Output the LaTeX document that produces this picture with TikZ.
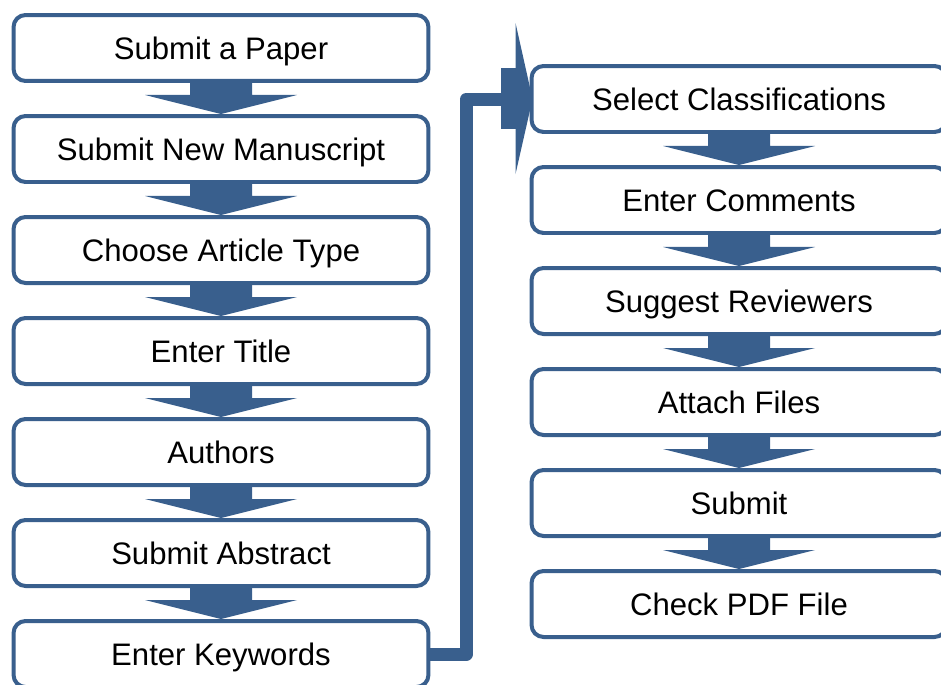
\documentclass[tikz,border=0pt]{standalone}
\usepackage{fontspec}
\setmainfont{Liberation Sans}
\usetikzlibrary{calc}
\definecolor{flowblue}{RGB}{57,95,141}
\tikzset{
  stepbox/.style={draw=flowblue,line width=0.08cm,rounded corners=0.24cm,fill=white,
    minimum width=8.3cm,minimum height=1.32cm,inner sep=0pt,
    text height=12.7pt,text depth=0pt,
    font=\fontsize{17.7}{21}\selectfont},
}

\begin{document}
\begin{tikzpicture}[x=0.02cm,y=-0.02cm]
        % Frame of the picture
        \useasboundingbox (0,0) rectangle (941,684);
        \clip (0,0) rectangle (941,684);

        % Left column
        \node[stepbox] (paper) at (221,48) {Submit a Paper};
        \node[stepbox] (manu) at (221,149) {Submit New Manuscript};
        \node[stepbox] (type) at (221,250) {Choose Article Type};
        \node[stepbox] (title) at (221,351) {Enter Title};
        \node[stepbox] (auth) at (221,452) {Authors};
        \node[stepbox] (abst) at (221,553) {Submit Abstract};
        \node[stepbox] (keyw) at (221,654) {Enter Keywords};

        % Right column
        \node[stepbox] (class) at (739,99) {Select Classifications};
        \node[stepbox] (comm) at (739,200) {Enter Comments};
        \node[stepbox] (rev) at (739,301) {Suggest Reviewers};
        \node[stepbox] (files) at (739,402) {Attach Files};
        \node[stepbox] (subm) at (739,503) {Submit};
        \node[stepbox] (pdf) at (739,604) {Check PDF File};

        % Block arrows between the boxes
        \foreach \a/\b in {paper/manu,manu/type,type/title,title/auth,auth/abst,abst/keyw,
                           class/comm,comm/rev,rev/files,files/subm,subm/pdf}
          \fill[flowblue] ($(\a.south)+(-31,-1)$) -- ($(\a.south)+(-31,12)$) -- ($(\a.south)+(-76,12)$)
            -- (\b.north) -- ($(\a.south)+(76,12)$) -- ($(\a.south)+(31,12)$) -- ($(\a.south)+(31,-1)$) -- cycle;

        % Elbow from Enter Keywords up to Select Classifications
        \draw[flowblue,line width=0.26cm,line join=round] (keyw.east) -- ($(keyw.east)+(36,0)$)
            |- ($(class.west)+(-28,0)$);
        \fill[flowblue] ($(class.west)+(-29,-31)$) rectangle ($(class.west)+(-13,30)$); % shaft block
        \fill[flowblue] ($(class.west)+(-14,-76)$) -- ($(class.west)+(3,0)$)
            -- ($(class.west)+(-14,75)$) -- cycle; % head

    \end{tikzpicture}
\end{document}
